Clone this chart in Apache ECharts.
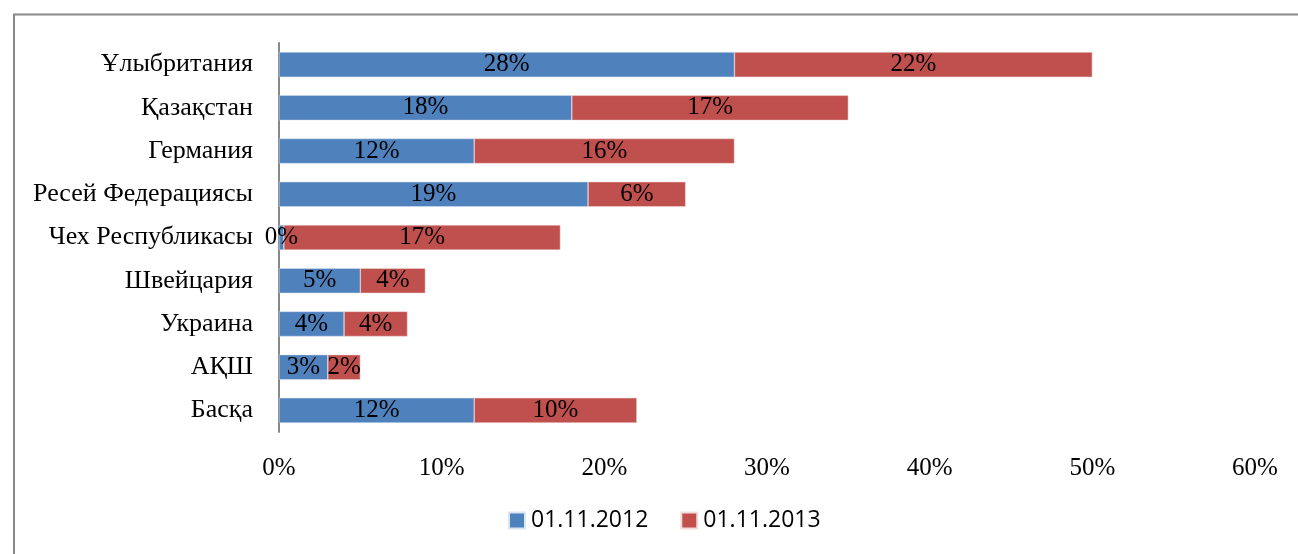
<!DOCTYPE html>
<html>
<head>
<meta charset="utf-8">
<script src="https://cdn.jsdelivr.net/npm/echarts@6/dist/echarts.min.js"></script>
<style>
html,body{margin:0;padding:0;background:#fff;}
#c{width:1298px;height:554px;}
</style>
</head>
<body>
<div id="c"></div>
<script>
var categories = ['Басқа','АҚШ','Украина','Швейцария','Чех Республикасы','Ресей Федерациясы','Германия','Қазақстан','Ұлыбритания'];
var series2012 = [12, 3, 4, 5, 0.3, 19, 12, 18, 28];
var series2013 = [10, 2, 3.9, 4, 17, 6, 16, 17, 22];
var xTicks = [0, 10, 20, 30, 40, 50, 60];
var legendNames = ['01.11.2012', '01.11.2013'];

var chart = echarts.init(document.getElementById('c'));
var serif = '"Liberation Serif","Times New Roman",serif';
var lbl = {
  show: true, position: 'inside', color: '#000', fontFamily: serif, fontSize: 25,
  formatter: function(p){ return Math.round(p.value) + '%'; }
};
chart.setOption({
  animation: false,
  graphic: [{
    type: 'rect', shape: {x: 14, y: 14.5, width: 1400, height: 700},
    style: {fill: 'none', stroke: '#888', lineWidth: 2}, silent: true
  }],
  grid: {left: 279, right: 43, top: 43, bottom: 122, containLabel: false},
  xAxis: {
    type: 'value', min: xTicks[0], max: xTicks[xTicks.length - 1], interval: 10,
    axisLine: {show: false}, axisTick: {show: false}, splitLine: {show: false},
    axisLabel: {formatter: '{value}%', color: '#000', fontFamily: serif, fontSize: 25, margin: 24}
  },
  yAxis: {
    type: 'category', data: categories,
    axisLine: {show: true, lineStyle: {color: '#888', width: 2}},
    axisTick: {show: false},
    axisLabel: {color: '#000', fontFamily: serif, fontSize: 26, margin: 26}
  },
  legend: {
    bottom: 17, left: 503, itemWidth: 16, itemHeight: 16, itemGap: 32,
    icon: 'rect',
    textStyle: {color: '#000', fontFamily: '"Open Sans","Liberation Sans",sans-serif', fontSize: 23, padding: [0,0,0,1]}
  },
  series: [
    {name: legendNames[0], type: 'bar', stack: 's', data: series2012, barCategoryGap: '42%',
     itemStyle: {color: '#4F81BD', borderColor: '#dbe5f1', borderWidth: 0.5}, label: lbl},
    {name: legendNames[1], type: 'bar', stack: 's', data: series2013,
     itemStyle: {color: '#C0504D', borderColor: '#f2dcdb', borderWidth: 0.5}, label: lbl}
  ]
});
</script>
</body>
</html>
